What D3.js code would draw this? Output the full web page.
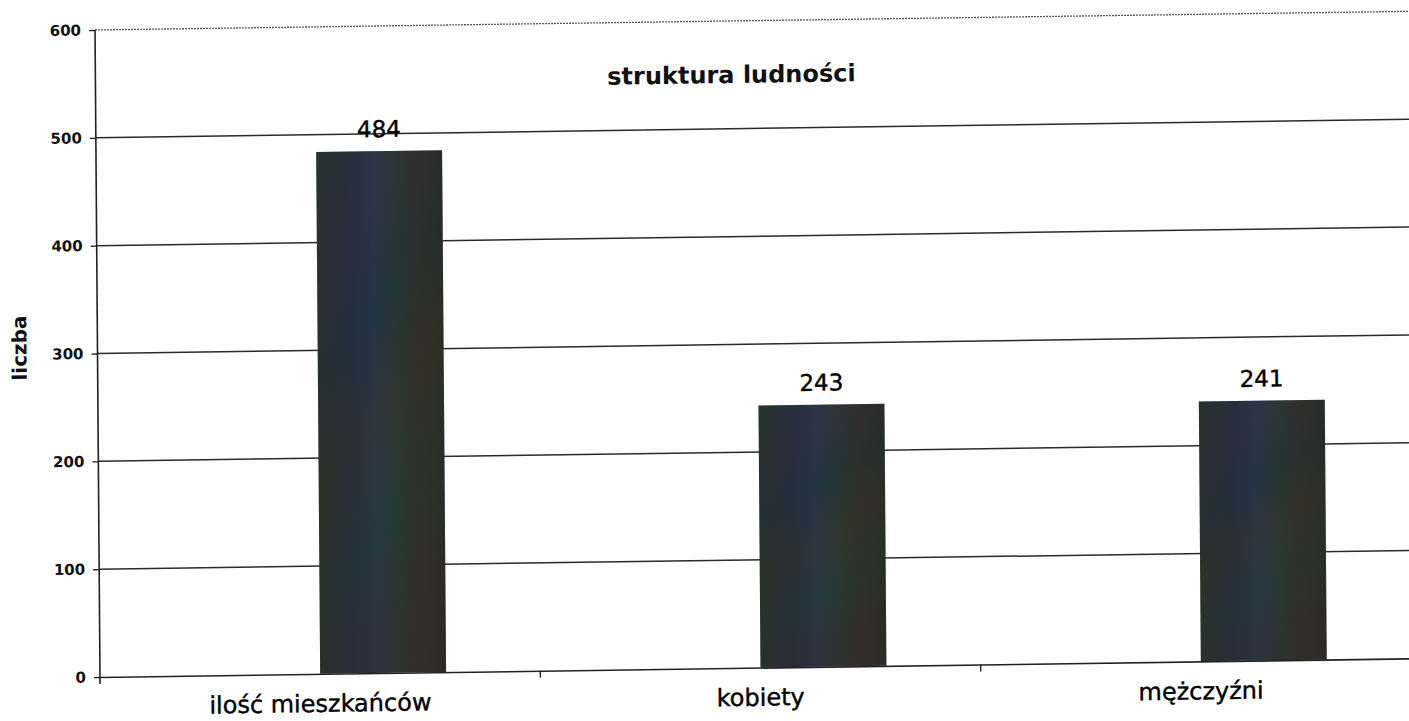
<!DOCTYPE html>
<html>
<head>
<meta charset="utf-8">
<script src="https://cdn.jsdelivr.net/npm/d3@7"></script>
<style>
  html, body { margin: 0; padding: 0; background: #ffffff; }
  svg { display: block; }
</style>
</head>
<body>
<svg id="chart" width="1409" height="721"></svg>
<script>
// ---- data ----
const categories = ["ilość mieszkańców", "kobiety", "mężczyźni"];
const values = [484, 243, 241];
const yTicks = [0, 100, 200, 300, 400, 500, 600];
const chartTitle = "struktura ludności";
const yAxisTitle = "liczba";

// ---- layout ----
const x0 = 100, yBase = 677, yTop = 30, xEnd = 1421;
// slight skew of the scanned page
const skewY = -0.0142, skewX = 0.0077;

const svg = d3.select("#chart");
const defs = svg.append("defs");

// bar texture (dark multi-coloured)
const g1 = defs.append("linearGradient").attr("id", "barH")
  .attr("x1", "0").attr("y1", "0").attr("x2", "1").attr("y2", "0");
[["0%", "#28302a"], ["25%", "#232d3c"], ["45%", "#27364a"], ["62%", "#283834"], ["80%", "#302f27"], ["100%", "#272b25"]]
  .forEach(s => g1.append("stop").attr("offset", s[0]).attr("stop-color", s[1]));
const g2 = defs.append("linearGradient").attr("id", "barV")
  .attr("x1", "0").attr("y1", "0").attr("x2", "0.3").attr("y2", "1");
[["0%", "#1f3a33", 0.35], ["20%", "#3a2c40", 0.25], ["40%", "#1c2f3a", 0.3], ["60%", "#3b3325", 0.3], ["80%", "#233a30", 0.3], ["100%", "#3a2a2a", 0.3]]
  .forEach(s => g2.append("stop").attr("offset", s[0]).attr("stop-color", s[1]).attr("stop-opacity", s[2]));

const g = svg.append("g")
  .attr("transform", `matrix(1,${skewY},${skewX},1,${-skewX * yBase},${-skewY * x0})`);

const x = d3.scaleBand().domain(categories).range([x0, xEnd]).padding(0);
const y = d3.scaleLinear().domain([0, 600]).range([yBase, yTop]);

// gridlines
g.append("g").selectAll("line")
  .data(yTicks.filter(t => t > 0))
  .join("line")
  .attr("x1", x0).attr("x2", xEnd)
  .attr("y1", d => y(d)).attr("y2", d => y(d))
  .attr("stroke", d => d === 600 ? "#555" : "#2a2a2a")
  .attr("stroke-width", d => d === 600 ? 1.3 : 1.5)
  .attr("stroke-dasharray", d => d === 600 ? "2,1" : null);

// bars
const bw = x.bandwidth() * 0.286;
const bars = g.append("g");
bars.selectAll("rect.b1")
  .data(values)
  .join("rect").attr("class", "b1")
  .attr("x", (d, i) => x(categories[i]) + x.bandwidth() / 2)
  .attr("width", bw)
  .attr("y", d => y(d))
  .attr("height", d => y(0) - y(d))
  .attr("fill", "url(#barH)");
bars.selectAll("rect.b2")
  .data(values)
  .join("rect").attr("class", "b2")
  .attr("x", (d, i) => x(categories[i]) + x.bandwidth() / 2)
  .attr("width", bw)
  .attr("y", d => y(d))
  .attr("height", d => y(0) - y(d))
  .attr("fill", "url(#barV)");

// value labels
g.append("g").selectAll("text")
  .data(values)
  .join("text")
  .attr("x", (d, i) => x(categories[i]) + x.bandwidth() / 2 + bw / 2)
  .attr("y", d => y(d) - 14)
  .attr("text-anchor", "middle")
  .attr("font-family", "DejaVu Sans, sans-serif")
  .attr("font-size", 23)
  .attr("fill", "#000")
  .attr("stroke", "#000").attr("stroke-width", 0.4)
  .text(d => d);

// y axis
const yAxis = g.append("g")
  .attr("transform", `translate(${x0},0)`)
  .call(d3.axisLeft(y).tickValues(yTicks).tickSize(6).tickPadding(8).tickSizeOuter(0));
yAxis.select(".domain").attr("stroke", "#222").attr("stroke-width", 1.6)
  .attr("d", `M0,${y(600)}V${y(0) + 7}`);
yAxis.selectAll(".tick line").attr("stroke", "#222").attr("stroke-width", 1.4);
yAxis.selectAll(".tick text")
  .attr("font-family", "DejaVu Sans, sans-serif")
  .attr("font-weight", "bold")
  .attr("font-size", 15)
  .attr("fill", "#111");

// x axis
const xAxis = g.append("g")
  .attr("transform", `translate(0,${yBase})`)
  .call(d3.axisBottom(x).tickSizeInner(0).tickSizeOuter(0).tickPadding(21));
xAxis.select(".domain").attr("stroke", "#222").attr("stroke-width", 1.6);
xAxis.selectAll(".tick text")
  .attr("font-family", "DejaVu Sans, sans-serif")
  .attr("font-size", 24)
  .attr("fill", "#000")
  .attr("stroke", "#000").attr("stroke-width", 0.4);
// category boundary ticks
xAxis.append("g").selectAll("line")
  .data(categories.slice(1))
  .join("line")
  .attr("x1", d => x(d)).attr("x2", d => x(d))
  .attr("y1", 0).attr("y2", 7)
  .attr("stroke", "#222").attr("stroke-width", 1.4);

// title
g.append("text")
  .attr("x", 736).attr("y", 92)
  .attr("text-anchor", "middle")
  .attr("font-family", "DejaVu Sans, sans-serif")
  .attr("font-weight", "bold")
  .attr("font-size", 24)
  .attr("fill", "#111")
  .text(chartTitle);

// y axis title
g.append("text")
  .attr("transform", "translate(29,347) rotate(-90)")
  .attr("text-anchor", "middle")
  .attr("font-family", "DejaVu Sans, sans-serif")
  .attr("font-weight", "bold")
  .attr("font-size", 20)
  .attr("fill", "#111")
  .text(yAxisTitle);
</script>
</body>
</html>
